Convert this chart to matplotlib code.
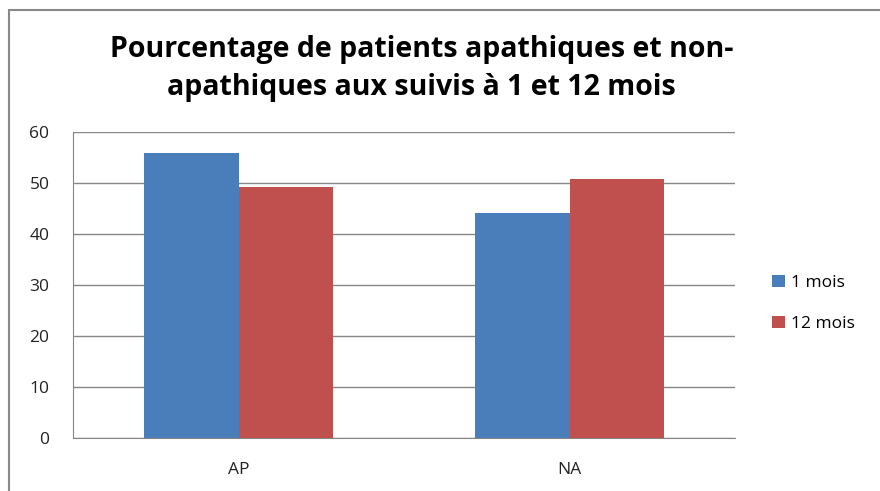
import numpy as np
import matplotlib.pyplot as plt
from matplotlib.patches import Rectangle

categories = ['AP', 'NA']
series_names = ['1 mois', '12 mois']
un_mois = [55.8, 44.2]
douze_mois = [49.2, 50.8]
colors = ['#4A7EBB', '#C0504D']

plt.rcParams['font.family'] = ['Open Sans', 'DejaVu Sans']

fig = plt.figure(figsize=(8.8, 4.91), dpi=100)
ax = fig.add_axes([73 / 880, 53 / 491, 662 / 880, 306 / 491])

x = np.arange(len(categories))
w = 0.284
ax.bar(x - w / 2, un_mois, w, color=colors[0], label=series_names[0], zorder=3)
ax.bar(x + w / 2, douze_mois, w, color=colors[1], label=series_names[1], zorder=3)

ax.set_xlim(-0.5, 1.5)
ax.set_ylim(0, 60)
ax.set_yticks(range(0, 61, 10))
ax.set_xticks(x)
ax.set_xticklabels(categories)
ax.yaxis.grid(True, color='#868686', linewidth=1, zorder=0)
for s in ['top', 'right']:
    ax.spines[s].set_visible(False)
for s in ['left', 'bottom']:
    ax.spines[s].set_color('#868686')
ax.tick_params(axis='both', length=0, labelsize=12.5, colors='#222222')
ax.tick_params(axis='y', pad=17)
ax.tick_params(axis='x', pad=17)

fig.text(0.479, 0.86, 'Pourcentage de patients apathiques et non-\napathiques aux suivis à 1 et 12 mois',
         ha='center', va='center', fontsize=20.5, fontweight='bold', linespacing=1.4)

ax.legend(loc='center left', bbox_to_anchor=(1.033, 0.44), frameon=False,
          fontsize=12.5, handlelength=0.7, handleheight=0.7, handletextpad=0.35,
          labelspacing=1.45)

fig.patches.append(Rectangle((9 / 880, -0.1), 2, (491 - 10) / 491 + 0.1,
                             transform=fig.transFigure, fill=False,
                             edgecolor='#898989', linewidth=1.5))

fig.savefig('out.png', dpi=100)
